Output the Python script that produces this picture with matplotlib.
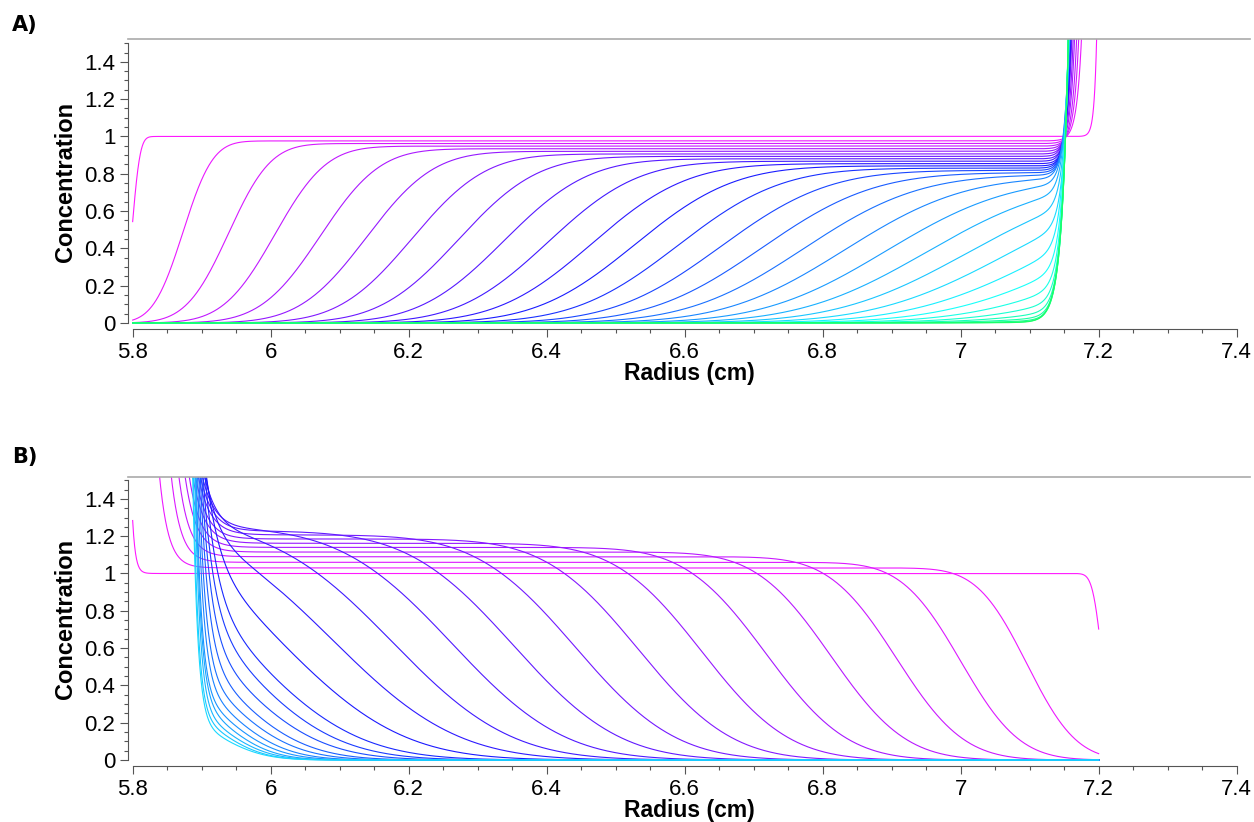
import math
import numpy as np
import matplotlib
matplotlib.use("Agg")
import matplotlib.pyplot as plt
from matplotlib.colors import hsv_to_rgb
from matplotlib.ticker import FuncFormatter

plt.rcParams['font.family'] = ['Liberation Sans', 'DejaVu Sans']

# A) sedimentation scans, one value per scan
# boundary midpoint (cm), plateau concentration, boundary spread (cm)
a_mid = [5.799, 5.873, 5.939, 6.006, 6.072, 6.139, 6.205, 6.272, 6.338, 6.402,
         6.466, 6.528, 6.590, 6.652, 6.712, 6.772, 6.832, 6.892, 6.951, 7.010,
         7.069, 7.128, 7.186, 7.244, 7.302, 7.360, 7.418, 7.476, 7.534, 7.592]
a_plateau = [1.000, 0.976, 0.962, 0.948, 0.934, 0.920, 0.906, 0.893, 0.880, 0.867,
             0.854, 0.842, 0.830, 0.818, 0.806, 0.795, 0.784, 0.773, 0.762, 0.752,
             0.742, 0.732, 0.722, 0.713, 0.704, 0.695, 0.686, 0.678, 0.670, 0.662]
a_spread = [0.013, 0.048, 0.068, 0.083, 0.096, 0.108, 0.118, 0.127, 0.136, 0.144,
            0.152, 0.159, 0.166, 0.173, 0.180, 0.186, 0.192, 0.198, 0.204, 0.210,
            0.215, 0.220, 0.225, 0.230, 0.235, 0.240, 0.245, 0.250, 0.255, 0.260]
# radius where the pile-up at the cell bottom leaves the frame, and its decay length
a_exit = [7.197, 7.175, 7.171, 7.168, 7.165, 7.163, 7.161, 7.160, 7.160, 7.159,
          7.159, 7.159, 7.158, 7.158, 7.158, 7.158, 7.157, 7.157, 7.157, 7.157,
          7.157, 7.156, 7.156, 7.156, 7.156, 7.156, 7.156, 7.156, 7.156, 7.156]
a_decay = [0.0037, 0.0070, 0.0068, 0.0066, 0.0064, 0.0062, 0.0060, 0.0060, 0.0060, 0.0060,
           0.0060, 0.0062, 0.0064, 0.0066, 0.0068, 0.0070, 0.0072, 0.0074, 0.0076, 0.0078,
           0.0080, 0.0082, 0.0084, 0.0086, 0.0088, 0.0090, 0.0092, 0.0094, 0.0096, 0.0100]
a_bottom = [7.20] + [7.18] * 29

# B) flotation scans
b_mid = [7.206, 7.096, 7.000, 6.907, 6.812, 6.718, 6.625, 6.533, 6.442, 6.352,
         6.263, 6.176, 6.090, 6.010, 5.950, 5.930, 5.920, 5.915, 5.915, 5.915,
         5.915, 5.915, 5.915, 5.915, 5.915]
b_plateau = [1.000, 1.030, 1.060, 1.090, 1.115, 1.140, 1.162, 1.185, 1.207, 1.228,
             1.248, 1.268, 1.285, 1.300, 1.300, 1.250, 1.100, 0.950, 0.800, 0.680,
             0.580, 0.500, 0.420, 0.360, 0.300]
b_spread = [0.016, 0.080, 0.095, 0.108, 0.120, 0.130, 0.140, 0.150, 0.160, 0.170,
            0.180, 0.190, 0.200, 0.200, 0.190, 0.175, 0.160, 0.140, 0.125, 0.110,
            0.100, 0.090, 0.085, 0.080, 0.080]
# radius where the pile-up at the meniscus leaves the frame, and its decay length
b_exit = [5.7974, 5.839, 5.856, 5.867, 5.876, 5.882, 5.887, 5.891, 5.895, 5.898,
          5.901, 5.904, 5.906, 5.907, 5.905, 5.902, 5.900, 5.898, 5.896, 5.894,
          5.892, 5.891, 5.890, 5.888, 5.887]
b_decay = [0.0043, 0.013, 0.014, 0.015, 0.016, 0.016, 0.017, 0.017, 0.018, 0.018,
           0.018, 0.019, 0.019, 0.020, 0.018, 0.016, 0.014, 0.012, 0.010, 0.009,
           0.008, 0.008, 0.0075, 0.0072, 0.0072]
b_bottom = 7.20

x_ticks = [5.8, 6.0, 6.2, 6.4, 6.6, 6.8, 7.0, 7.2, 7.4]
y_ticks = [0, 0.2, 0.4, 0.6, 0.8, 1.0, 1.2, 1.4]
y_top = 1.52

erf = np.vectorize(math.erf)


def sed_curve(r, mid, plat, sp, ex, dec):
    base = plat * 0.5 * (1 + erf((r - mid) / sp))
    base_ex = plat * 0.5 * (1 + math.erf((ex - mid) / sp))
    return base + (y_top - base_ex) * np.exp((r - ex) / dec)


def flo_curve(r, mid, plat, sp, ex, dec):
    base = plat * 0.5 * (1 - erf((r - mid) / sp))
    base_ex = plat * 0.5 * (1 - math.erf((ex - mid) / sp))
    return base + (y_top - base_ex) * np.exp(-(r - ex) / dec)


def style_axes(ax):
    ax.set_xlim(5.8 - 5 / 690, 7.42)
    ax.set_ylim(-0.012, y_top)
    ax.spines['right'].set_visible(False)
    ax.spines['top'].set_color('#aaaaaa')
    ax.spines['top'].set_linewidth(1.2)
    ax.spines['left'].set_color('#555555')
    ax.spines['left'].set_bounds(0, 1.5)
    ax.spines['bottom'].set_color('#555555')
    ax.spines['bottom'].set_position(('outward', 3))
    ax.spines['bottom'].set_bounds(5.8, 7.4)
    ax.xaxis.set_major_locator(plt.FixedLocator(x_ticks))
    ax.yaxis.set_major_locator(plt.FixedLocator(y_ticks))
    fmt = FuncFormatter(lambda v, p: f'{round(v, 2):g}')
    ax.xaxis.set_major_formatter(fmt)
    ax.yaxis.set_major_formatter(fmt)
    ax.tick_params(which='major', length=5.8, width=0.8, color='#555555',
                   labelsize=16, pad=3)
    ax.tick_params(which='minor', length=2.9, width=0.8, color='#555555')
    # minor ticks only inside the drawn axis lines
    ax.set_xticks(list(np.arange(5.8, 7.401, 0.05)), minor=True)
    ax.set_yticks(list(np.arange(0, 1.501, 0.05)), minor=True)
    ax.set_xlabel('Radius (cm)', fontsize=16.5, fontweight='bold', va='bottom')
    ax.xaxis.set_label_coords(0.5, -0.2076)
    ax.set_ylabel('Concentration', fontsize=17, fontweight='bold', va='center')
    ax.yaxis.set_label_coords(-0.055, 0.5)


fig = plt.figure(figsize=(12.54, 8.22), dpi=100)
ax_a = fig.add_axes([0.1018, 0.6044, 0.8954, 0.3476])
ax_b = fig.add_axes([0.1018, 0.0727, 0.8954, 0.3476])

a_colors = [hsv_to_rgb((h / 360, 0.9, 1)) for h in np.linspace(300, 140, len(a_mid))]
for i in range(len(a_mid)):
    r = np.linspace(5.8, a_bottom[i], 3000)
    c = sed_curve(r, a_mid[i], a_plateau[i], a_spread[i], a_exit[i], a_decay[i])
    ax_a.plot(r, c, color=a_colors[i], lw=0.8)

b_colors = [hsv_to_rgb((h / 360, 0.9, 1)) for h in np.linspace(300, 190, len(b_mid))]
for i in range(len(b_mid)):
    r = np.linspace(5.8, b_bottom, 3000)
    c = flo_curve(r, b_mid[i], b_plateau[i], b_spread[i], b_exit[i], b_decay[i])
    ax_b.plot(r, c, color=b_colors[i], lw=0.8)

for ax in (ax_a, ax_b):
    style_axes(ax)

fig.text(12 / 1254, 1 - 25 / 822, 'A)', family='DejaVu Sans', fontweight='bold',
         fontsize=15, ha='left', va='center')
fig.text(12 / 1254, 1 - 457 / 822, 'B)', family='DejaVu Sans', fontweight='bold',
         fontsize=15, ha='left', va='center')

fig.savefig('out.png', dpi=100)
